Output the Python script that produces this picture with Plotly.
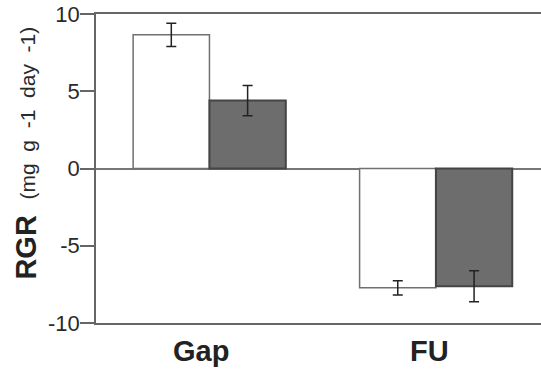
import plotly.graph_objects as go

categories = ["Gap", "FU"]
series_a = [8.65, -7.72]     # white bars
err_a = [0.75, 0.46]
series_b = [4.4, -7.62]      # dark bars
err_b = [0.98, 1.0]
y_ticks = [10, 5, 0, -5, -10]

fig = go.Figure()
fig.add_trace(go.Bar(
    x=categories, y=series_a,
    marker=dict(color="white", line=dict(color="#707070", width=1.5)),
    error_y=dict(type="data", array=err_a, color="#222222", thickness=1.5, width=5),
))
fig.add_trace(go.Bar(
    x=categories, y=series_b,
    marker=dict(color="#6d6d6d", line=dict(color="#444444", width=2)),
    error_y=dict(type="data", array=err_b, color="#222222", thickness=1.5, width=5),
))

fig.update_layout(
    width=541, height=370,
    margin=dict(l=96, r=0, t=14, b=47),
    paper_bgcolor="white", plot_bgcolor="white",
    barmode="group", bargap=0.326, bargroupgap=0,
    showlegend=False,
    font=dict(family="Liberation Sans, Arial", color="#333333"),
)
fig.update_xaxes(
    type="category", range=[-0.501, 1.464],
    showticklabels=False, ticks="",
    showline=True, linecolor="#666666", linewidth=1.5, mirror=True,
    showgrid=False, zeroline=False,
)
fig.update_yaxes(
    range=[-10, 10], tickvals=y_ticks, ticktext=[str(v) for v in y_ticks],
    ticks="outside", ticklen=14, tickcolor="#666666", tickwidth=1.5,
    tickfont=dict(size=22, color="#2a2a2a"), ticklabelstandoff=-4,
    showline=True, linecolor="#666666", linewidth=1.5,
    showgrid=False, zeroline=True, zerolinecolor="#777777", zerolinewidth=1.5,
)

for cat, dx in zip(categories, [-8, -6]):
    fig.add_annotation(
        x=cat, xref="x", y=0, yref="paper", yanchor="top", yshift=-10, xshift=dx,
        text=f"<b>{cat}</b>", showarrow=False,
        font=dict(size=29, color="#222222", family="Liberation Sans, Arial"),
    )

fig.add_annotation(
    x=0, xref="paper", xshift=-70, xanchor="center",
    y=0.244, yref="paper", yanchor="middle",
    text="<b>RGR</b>", textangle=-90, showarrow=False,
    font=dict(size=29, color="#222222", family="Liberation Sans, Arial"),
)
fig.add_annotation(
    x=0, xref="paper", xshift=-69, xanchor="center",
    y=0.678, yref="paper", yanchor="middle",
    text="(mg\u00a0 g\u00a0 -1\u00a0 day\u00a0 -1)", textangle=-90, showarrow=False,
    font=dict(size=21, color="#2a2a2a", family="Liberation Sans, Arial"),
)

fig.write_html("out.html")
